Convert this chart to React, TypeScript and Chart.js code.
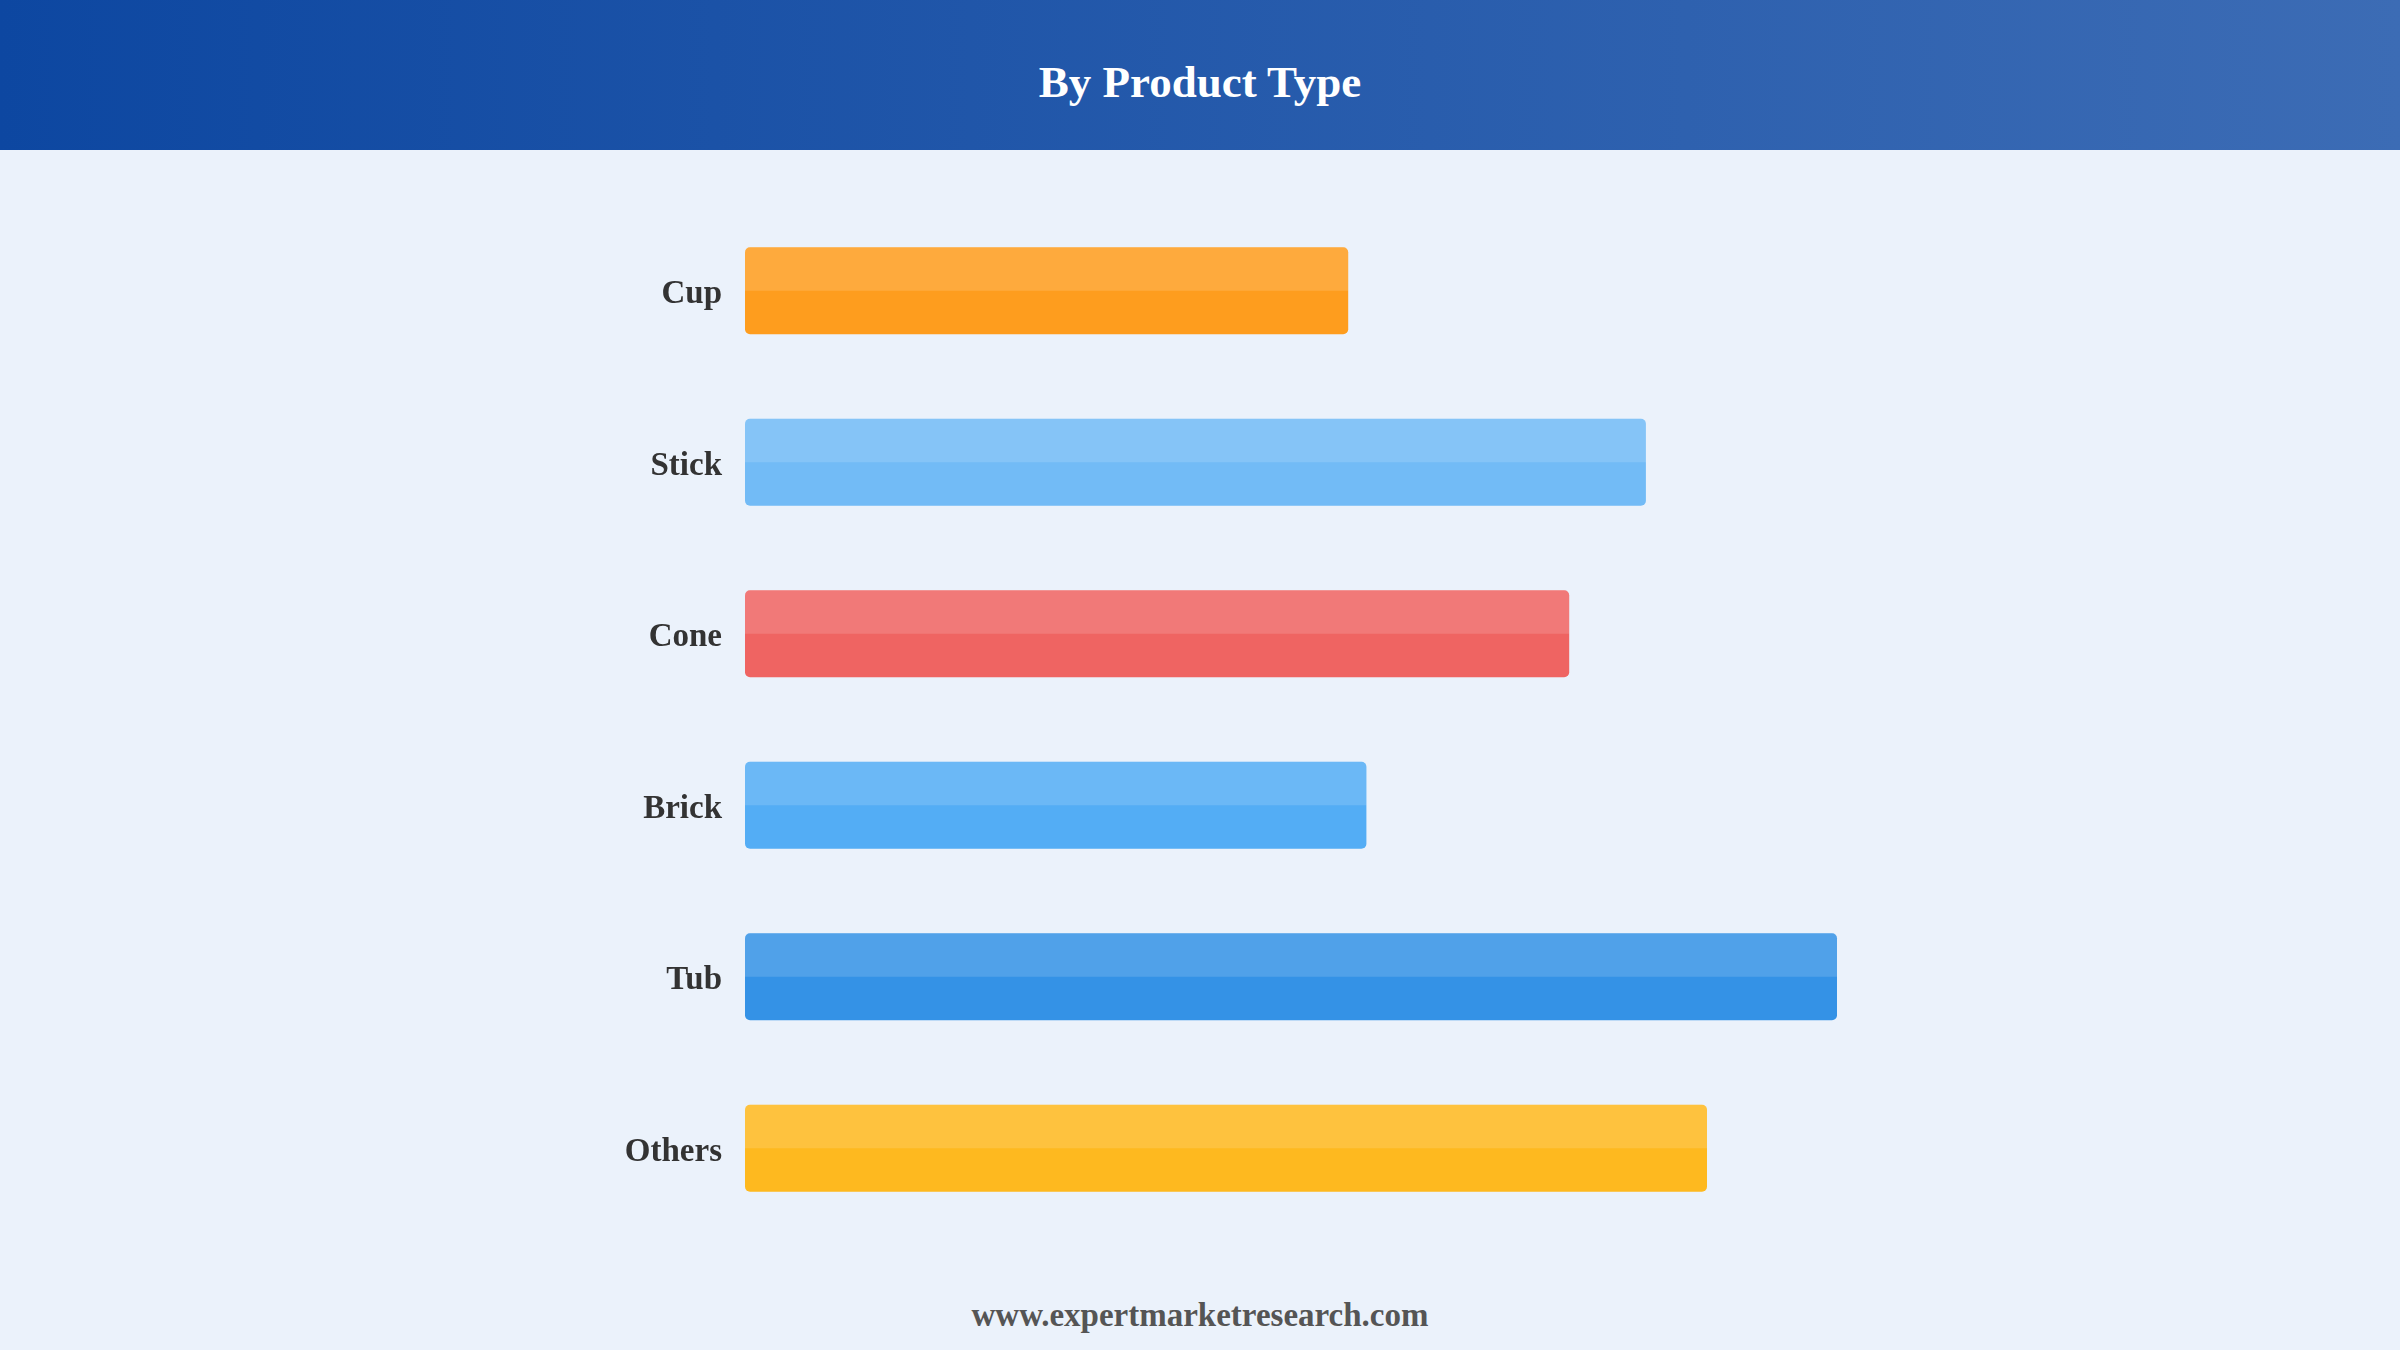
import React, { useEffect, useRef } from "react";
import { Chart, registerables } from "chart.js";

Chart.register(...registerables);

const categories = ["Cup", "Stick", "Cone", "Brick", "Tub", "Others"];
const values = [46.4, 69.3, 63.4, 47.8, 84.0, 74.0];
const barColors = ["#FE9D1E", "#72BBF6", "#EF6462", "#53ADF5", "#3492E6", "#FEB91F"];
const axisMax = 100;

const topHalfPlugin = {
  id: "topHalfHighlight",
  afterDatasetsDraw(chart: any) {
    const ctx = chart.ctx;
    chart.data.datasets.forEach((_: any, di: number) => {
      const meta = chart.getDatasetMeta(di);
      meta.data.forEach((el: any) => {
        const p = el.getProps(["x", "y", "base", "height"], true);
        const left = Math.min(p.x, p.base);
        const w = Math.abs(p.x - p.base);
        const top = p.y - p.height / 2;
        ctx.save();
        ctx.fillStyle = "rgba(255,255,255,0.14)";
        ctx.beginPath();
        ctx.roundRect(left, top, w, p.height / 2, [5, 5, 0, 0]);
        ctx.fill();
        ctx.restore();
      });
    });
  },
};

export default function App() {
  const ref = useRef<HTMLCanvasElement | null>(null);

  useEffect(() => {
    if (!ref.current) return;
    const chart = new Chart(ref.current, {
      type: "bar",
      data: {
        labels: categories,
        datasets: [
          {
            data: values,
            backgroundColor: barColors,
            borderRadius: 5,
            borderSkipped: false,
            categoryPercentage: 0.507,
            barPercentage: 1,
          },
        ],
      },
      options: {
        indexAxis: "y",
        responsive: false,
        animation: false,
        devicePixelRatio: 1,
        layout: { padding: { left: 0, right: 355, top: 55, bottom: 46 } },
        plugins: {
          legend: { display: false },
          tooltip: { enabled: false },
          title: { display: false },
        },
        scales: {
          x: {
            display: false,
            min: 0,
            max: axisMax,
          },
          y: {
            grid: { display: false, drawTicks: false },
            border: { display: false },
            ticks: {
              padding: 23,
              labelOffset: 4,
              color: "#333333",
              font: { family: "'Liberation Serif', 'Times New Roman', serif", size: 33, weight: "bold" },
            },
            afterFit: (scale: any) => {
              scale.width = 745;
            },
          },
        },
      },
      plugins: [topHalfPlugin],
    } as any);
    return () => chart.destroy();
  }, []);

  return (
    <div
      style={{
        position: "absolute",
        left: 0,
        top: 0,
        width: 2400,
        height: 1350,
        background: "#EBF2FB",
        overflow: "hidden",
        fontFamily: "'Liberation Serif', 'Times New Roman', serif",
      }}
    >
      <div
        style={{
          position: "absolute",
          left: 0,
          top: 0,
          width: 2400,
          height: 150,
          background: "linear-gradient(90deg, #0D47A1 0%, #3C6CB5 100%)",
        }}
      />
      <div
        style={{
          position: "absolute",
          left: 0,
          top: 60,
          width: 2400,
          textAlign: "center",
          color: "#ffffff",
          fontWeight: "bold",
          fontSize: 45,
          lineHeight: "45px",
        }}
      >
        By Product Type
      </div>
      <canvas
        ref={ref}
        width={2400}
        height={1130}
        style={{ position: "absolute", left: 0, top: 150, width: 2400, height: 1130 }}
      />
      <div
        style={{
          position: "absolute",
          left: 0,
          top: 1299,
          width: 2400,
          textAlign: "center",
          color: "#555555",
          fontWeight: "bold",
          fontSize: 33,
          lineHeight: "33px",
        }}
      >
        www.expertmarketresearch.com
      </div>
    </div>
  );
}
